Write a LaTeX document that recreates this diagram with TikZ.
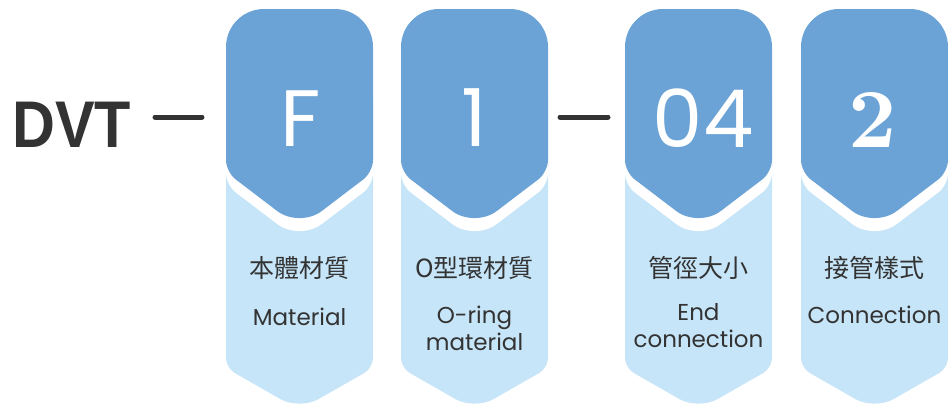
\documentclass[tikz,border=0pt]{standalone}
\usepackage{fontspec}
\setmainfont{Poppins}
\newfontfamily\cjkfont{Noto Sans CJK TC}
\newfontfamily\arialfont{Liberation Sans}
\newfontfamily\myserifbold{lmroman10-bold.otf}
\definecolor{darkblue}{HTML}{6BA3D6}
\definecolor{lightblue}{HTML}{C6E5F8}
\definecolor{txt}{HTML}{333333}
\tikzset{
  bigletter/.style={text=white, inner sep=0pt, anchor=base, font=\fontsize{80}{80}\selectfont},
  cjklabel/.style={text=txt, inner sep=0pt, anchor=center, font=\cjkfont\fontsize{25}{25}\selectfont},
  latlabel/.style={text=txt, inner sep=0pt, anchor=base, align=center, font=\fontsize{23}{27}\selectfont},
  dashline/.style={draw=txt, line width=5pt, line cap=round}
}
\begin{document}
\begin{tikzpicture}[x=1pt,y=-1pt]
\useasboundingbox (0,0) rectangle (948,405);
\clip (0,0) rectangle (948,405);
\foreach \L in {226,401,625,801}{
  \pgfmathsetmacro\R{\L+147}
  \pgfmathsetmacro\C{\L+73.5}
  % light lower shape
  \fill[lightblue] (\L,100) [rounded corners=10] -- (\L,368) [rounded corners=22] -- (\C,410) [rounded corners=10] -- (\R,368) [sharp corners] -- (\R,100) -- cycle;
  % white offset copy
  \fill[white] (\L,100) [rounded corners=12] -- (\L,185) [rounded corners=28] -- (\C,241) [rounded corners=12] -- (\R,185) [rounded corners=38] -- (\R,22) -- (\L,22) -- cycle;
  % dark upper shape
  \fill[darkblue] (\L,100) [rounded corners=12] -- (\L,172) [rounded corners=28] -- (\C,228) [rounded corners=12] -- (\R,172) [rounded corners=38] -- (\R,9) -- (\L,9) -- cycle;
}
% code letters
\node[text=txt, inner sep=0pt, anchor=base west, font=\arialfont\bfseries\fontsize{66}{66}\selectfont, xscale=0.9] (dvt) at (12,147) {DVT};
\coordinate (d1a) at (155,117); \coordinate (d1b) at (202,117);
\draw[dashline] (d1a) -- (d1b);
\coordinate (d2a) at (560,117); \coordinate (d2b) at (608,117);
\draw[dashline] (d2a) -- (d2b);
\node[bigletter] (f) at (301,146) {F};
\node[bigletter] (one) at (474.5,146) {1};
\node[bigletter] (zf) at (703,147) {0\hspace{1pt}4};
\node[text=white, inner sep=0pt, anchor=base, font=\myserifbold\fontsize{84}{84}\selectfont] (two) at (873,147) {2};
% labels
\node[cjklabel] (c1) at (299.5,268) {本體材質};
\node[cjklabel] (c2) at (474.5,268) {O型環材質};
\node[cjklabel] (c3) at (698.5,268) {管徑大小};
\node[cjklabel] (c4) at (874.5,268) {接管樣式};
\node[latlabel] (e1) at (299.5,325) {Material};
\node[latlabel] (e2) at (474.5,350) {O-ring\\material};
\node[latlabel] (e3) at (698.5,347) {End\\connection};
\node[latlabel] (e4) at (874.5,323) {Connection};
\end{tikzpicture}
\end{document}
